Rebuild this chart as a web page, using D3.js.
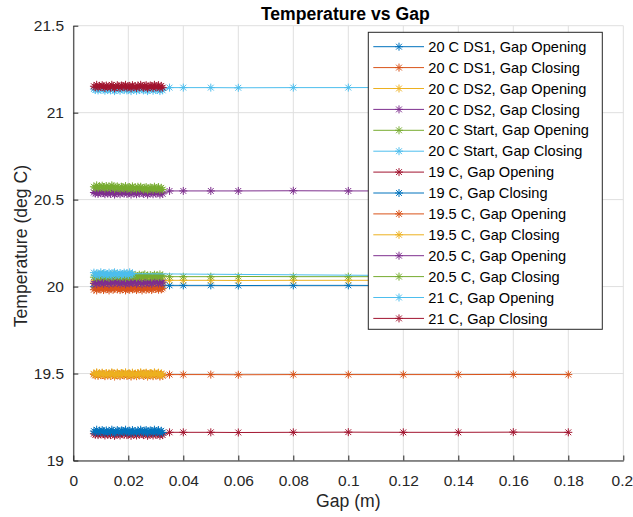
<!DOCTYPE html>
<html>
<head>
<meta charset="utf-8">
<script src="https://cdn.jsdelivr.net/npm/d3@7"></script>
<style>
  body { margin: 0; background: #ffffff; }
  text { font-family: "Liberation Sans", Arial, sans-serif; fill: #262626; }
</style>
</head>
<body>
<div id="vis"></div>
<script>
// ---------------------------------- DATOS ----------------------------------
const seriesNames = [
    "20 C DS1, Gap Opening", "20 C DS1, Gap Closing",
    "20 C DS2, Gap Opening", "20 C DS2, Gap Closing",
    "20 C Start, Gap Opening", "20 C Start, Gap Closing",
    "19 C, Gap Opening", "19 C, Gap Closing",
    "19.5 C, Gap Opening", "19.5 C, Gap Closing",
    "20.5 C, Gap Opening", "20.5 C, Gap Closing",
    "21 C, Gap Opening", "21 C, Gap Closing"
];

const xTicks = [0, 0.02, 0.04, 0.06, 0.08, 0.1, 0.12, 0.14, 0.16, 0.18, 0.2];
const xTickLabels = ["0", "0.02", "0.04", "0.06", "0.08", "0.1", "0.12", "0.14", "0.16", "0.18", "0.2"];
const yTicks = [19, 19.5, 20, 20.5, 21, 21.5];
const yTickLabels = ["19", "19.5", "20", "20.5", "21", "21.5"];

// gaps (m)
const gapOpening = [0.0075, 0.008, 0.0085, 0.009, 0.0095, 0.01, 0.0105, 0.011, 0.0115, 0.012,
    0.0125, 0.013, 0.0135, 0.014, 0.0145, 0.015, 0.0155, 0.016, 0.0165, 0.017,
    0.0175, 0.018, 0.0185, 0.019, 0.0195, 0.02, 0.0205, 0.021, 0.0215, 0.022,
    0.0225, 0.023, 0.0235, 0.024, 0.0245, 0.025, 0.0255, 0.026, 0.0265, 0.027,
    0.0275, 0.028, 0.0285, 0.029, 0.0295, 0.03, 0.0305, 0.031, 0.0315, 0.032, 0.0325,
    0.035, 0.04, 0.05, 0.06, 0.08, 0.10, 0.12, 0.14, 0.16, 0.18];
const gapClosing = [0.0325, 0.032, 0.0315, 0.031, 0.0305, 0.03, 0.0295, 0.029, 0.0285, 0.028,
    0.0275, 0.027, 0.0265, 0.026, 0.0255, 0.025, 0.0245, 0.024, 0.0235, 0.023,
    0.0225, 0.022, 0.0215, 0.021, 0.0205, 0.02, 0.0195, 0.019, 0.0185, 0.018,
    0.0175, 0.017, 0.0165, 0.016, 0.0155, 0.015, 0.0145, 0.014, 0.0135, 0.013,
    0.0125, 0.012, 0.0115, 0.011, 0.0105, 0.01, 0.0095, 0.009, 0.0085, 0.008, 0.0075];
const gapStartClosing = [0.18, 0.0215, 0.021, 0.0205, 0.02, 0.0195, 0.019, 0.0185, 0.018, 0.0175,
    0.017, 0.0165, 0.016, 0.0155, 0.015, 0.0145, 0.014, 0.0135, 0.013, 0.0125,
    0.012, 0.0115, 0.011, 0.0105, 0.01, 0.0095, 0.009, 0.0085, 0.008, 0.0075];

// temperatures (deg C)
const t20Ds1Open = [19.999, 20.009, 19.995, 20.013, 20.005, 20.001, 20.015, 19.997, 20.007, 20.011,
    20.003, 19.995, 20.013, 20.009, 19.999, 20.005, 20.015, 20.001, 20.011, 19.997,
    20.007, 20.003, 20.013, 19.995, 20.009, 20.005, 19.999, 20.015, 20.001, 20.007,
    20.011, 19.997, 20.005, 20.013, 20.003, 19.995, 20.009, 20.015, 19.999, 20.007,
    20.001, 20.011, 19.997, 20.005, 20.013, 20.003, 20.009, 19.999, 20.015, 20.001, 20.007,
    20.007, 20.007, 20.007, 20.006, 20.007, 20.007, 20.006, 20.007, 20.007, 20.007];
const t20Ds1Close = [19.990, 19.984, 19.998, 19.982, 19.992, 19.986, 19.996, 19.988, 19.980, 19.994,
    19.984, 19.990, 19.982, 19.998, 19.992, 19.978, 19.986, 19.996, 19.988, 19.980,
    19.994, 19.990, 19.984, 19.998, 19.982, 19.988, 19.992, 19.978, 19.996, 19.986,
    19.990, 19.980, 19.994, 19.984, 19.998, 19.988, 19.982, 19.992, 19.996, 19.978,
    19.986, 19.994, 19.990, 19.980, 19.998, 19.984, 19.988, 19.996, 19.978, 19.992, 19.982];
const t20Ds2Open = [20.026, 20.036, 20.022, 20.040, 20.032, 20.028, 20.042, 20.024, 20.034, 20.038,
    20.030, 20.022, 20.040, 20.036, 20.026, 20.032, 20.042, 20.028, 20.038, 20.024,
    20.034, 20.030, 20.040, 20.022, 20.036, 20.032, 20.026, 20.042, 20.028, 20.034,
    20.038, 20.024, 20.032, 20.040, 20.030, 20.022, 20.036, 20.042, 20.026, 20.034,
    20.028, 20.038, 20.024, 20.032, 20.040, 20.030, 20.036, 20.026, 20.042, 20.028, 20.034,
    20.036, 20.036, 20.036, 20.035, 20.036, 20.036, 20.036, 20.035, 20.036, 20.036];
const t20Ds2Close = [20.026, 20.020, 20.034, 20.018, 20.028, 20.022, 20.032, 20.024, 20.016, 20.030,
    20.020, 20.026, 20.018, 20.034, 20.028, 20.014, 20.022, 20.032, 20.024, 20.016,
    20.030, 20.026, 20.020, 20.034, 20.018, 20.024, 20.028, 20.014, 20.032, 20.022,
    20.026, 20.016, 20.030, 20.020, 20.034, 20.024, 20.018, 20.028, 20.032, 20.014,
    20.022, 20.030, 20.026, 20.016, 20.034, 20.020, 20.024, 20.032, 20.014, 20.028, 20.018];
const t20StartOpen = [20.054, 20.064, 20.050, 20.068, 20.060, 20.056, 20.070, 20.052, 20.062, 20.066,
    20.058, 20.050, 20.068, 20.064, 20.054, 20.060, 20.070, 20.056, 20.066, 20.052,
    20.062, 20.058, 20.068, 20.050, 20.064, 20.060, 20.054, 20.070, 20.056, 20.062,
    20.066, 20.052, 20.060, 20.068, 20.058, 20.050, 20.064, 20.070, 20.054, 20.062,
    20.056, 20.066, 20.052, 20.060, 20.068, 20.058, 20.064, 20.054, 20.070, 20.056, 20.062,
    20.057, 20.057, 20.057, 20.058, 20.057, 20.057, 20.057, 20.058, 20.057, 20.057];
const t20StartClose = [20.057,
    20.074, 20.068, 20.082, 20.066, 20.076, 20.070, 20.080, 20.072, 20.064, 20.078,
    20.068, 20.074, 20.066, 20.082, 20.076, 20.062, 20.070, 20.080, 20.072, 20.064,
    20.078, 20.074, 20.068, 20.082, 20.066, 20.072, 20.076, 20.062, 20.080];
const t19Open = [19.154, 19.148, 19.162, 19.146, 19.156, 19.150, 19.160, 19.152, 19.144, 19.158,
    19.148, 19.154, 19.146, 19.162, 19.156, 19.142, 19.150, 19.160, 19.152, 19.144,
    19.158, 19.154, 19.148, 19.162, 19.146, 19.152, 19.156, 19.142, 19.160, 19.150,
    19.154, 19.144, 19.158, 19.148, 19.162, 19.152, 19.146, 19.156, 19.160, 19.142,
    19.150, 19.158, 19.154, 19.144, 19.162, 19.148, 19.152, 19.160, 19.142, 19.156, 19.146,
    19.162, 19.162, 19.162, 19.161, 19.162, 19.163, 19.162, 19.162, 19.163, 19.162];
const t19Close = [19.161, 19.171, 19.157, 19.175, 19.167, 19.163, 19.177, 19.159, 19.169, 19.173,
    19.165, 19.157, 19.175, 19.171, 19.161, 19.167, 19.177, 19.163, 19.173, 19.159,
    19.169, 19.165, 19.175, 19.157, 19.171, 19.167, 19.161, 19.177, 19.163, 19.169,
    19.173, 19.159, 19.167, 19.175, 19.165, 19.157, 19.171, 19.177, 19.161, 19.169,
    19.163, 19.173, 19.159, 19.167, 19.175, 19.165, 19.171, 19.161, 19.177, 19.163, 19.169];
const t195Open = [19.495, 19.489, 19.503, 19.487, 19.497, 19.491, 19.501, 19.493, 19.485, 19.499,
    19.489, 19.495, 19.487, 19.503, 19.497, 19.483, 19.491, 19.501, 19.493, 19.485,
    19.499, 19.495, 19.489, 19.503, 19.487, 19.493, 19.497, 19.483, 19.501, 19.491,
    19.495, 19.485, 19.499, 19.489, 19.503, 19.493, 19.487, 19.497, 19.501, 19.483,
    19.491, 19.499, 19.495, 19.485, 19.503, 19.489, 19.493, 19.501, 19.483, 19.497, 19.487,
    19.494, 19.494, 19.494, 19.493, 19.494, 19.494, 19.494, 19.494, 19.495, 19.494];
const t195Close = [19.491, 19.501, 19.487, 19.505, 19.497, 19.493, 19.507, 19.489, 19.499, 19.503,
    19.495, 19.487, 19.505, 19.501, 19.491, 19.497, 19.507, 19.493, 19.503, 19.489,
    19.499, 19.495, 19.505, 19.487, 19.501, 19.497, 19.491, 19.507, 19.493, 19.499,
    19.503, 19.489, 19.497, 19.505, 19.495, 19.487, 19.501, 19.507, 19.491, 19.499,
    19.493, 19.503, 19.489, 19.497, 19.505, 19.495, 19.501, 19.491, 19.507, 19.493, 19.499];
const t205Open = [20.541, 20.535, 20.549, 20.533, 20.543, 20.537, 20.547, 20.539, 20.531, 20.545,
    20.535, 20.541, 20.533, 20.549, 20.543, 20.529, 20.537, 20.547, 20.539, 20.531,
    20.545, 20.541, 20.535, 20.549, 20.533, 20.539, 20.543, 20.529, 20.547, 20.537,
    20.541, 20.531, 20.545, 20.535, 20.549, 20.539, 20.533, 20.543, 20.547, 20.529,
    20.537, 20.545, 20.541, 20.531, 20.549, 20.535, 20.539, 20.547, 20.529, 20.543, 20.533,
    20.550, 20.550, 20.550, 20.550, 20.551, 20.550, 20.550, 20.551, 20.550, 20.550];
const t205Close = [20.558, 20.568, 20.554, 20.572, 20.564, 20.560, 20.574, 20.556, 20.566, 20.570,
    20.562, 20.554, 20.572, 20.568, 20.558, 20.564, 20.574, 20.564, 20.574, 20.560,
    20.570, 20.566, 20.576, 20.558, 20.572, 20.568, 20.562, 20.578, 20.564, 20.570,
    20.574, 20.560, 20.568, 20.576, 20.570, 20.562, 20.576, 20.582, 20.566, 20.574,
    20.568, 20.578, 20.564, 20.572, 20.580, 20.570, 20.576, 20.566, 20.582, 20.568, 20.574];
const t21Open = [21.136, 21.130, 21.144, 21.128, 21.138, 21.132, 21.142, 21.134, 21.126, 21.140,
    21.130, 21.136, 21.128, 21.144, 21.138, 21.124, 21.132, 21.142, 21.134, 21.126,
    21.140, 21.136, 21.130, 21.144, 21.128, 21.134, 21.138, 21.124, 21.142, 21.132,
    21.136, 21.126, 21.140, 21.130, 21.144, 21.134, 21.128, 21.138, 21.142, 21.124,
    21.132, 21.140, 21.136, 21.126, 21.144, 21.130, 21.134, 21.142, 21.124, 21.138, 21.128,
    21.144, 21.144, 21.144, 21.143, 21.144, 21.144, 21.145, 21.144, 21.144, 21.144];
const t21Close = [21.144, 21.154, 21.140, 21.158, 21.150, 21.146, 21.160, 21.142, 21.152, 21.156,
    21.148, 21.140, 21.158, 21.154, 21.144, 21.150, 21.160, 21.146, 21.156, 21.142,
    21.152, 21.148, 21.158, 21.140, 21.154, 21.150, 21.144, 21.160, 21.146, 21.152,
    21.156, 21.142, 21.150, 21.158, 21.148, 21.140, 21.154, 21.160, 21.144, 21.152,
    21.146, 21.156, 21.142, 21.150, 21.158, 21.148, 21.154, 21.144, 21.160, 21.146, 21.152];

const seriesGaps = [gapOpening, gapClosing, gapOpening, gapClosing, gapOpening, gapStartClosing,
    gapOpening, gapClosing, gapOpening, gapClosing, gapOpening, gapClosing, gapOpening, gapClosing];
const seriesTemps = [t20Ds1Open, t20Ds1Close, t20Ds2Open, t20Ds2Close, t20StartOpen, t20StartClose,
    t19Open, t19Close, t195Open, t195Close, t205Open, t205Close, t21Open, t21Close];

const colores = ["#0072BD", "#D95319", "#EDB120", "#7E2F8E", "#77AC30", "#4DBEEE", "#A2142F"];

// ---------------------------------- VIS ----------------------------------
const WIDTH = 633;
const HEIGHT = 517;
const LEFT = 73.3, RIGHT = 623.3, TOP = 25.7, BOTTOM = 460.5;

const SVG = d3.select("#vis").append("svg")
    .attr("width", WIDTH)
    .attr("height", HEIGHT);

const escalaX = d3.scaleLinear().domain([0, 0.2]).range([LEFT, RIGHT]);
const escalaY = d3.scaleLinear().domain([19, 21.5]).range([BOTTOM, TOP]);
const escalaColor = d3.scaleOrdinal().domain(seriesNames).range(colores);

// grid
SVG.append("g").selectAll("line")
    .data(xTicks)
    .enter()
    .append("line")
    .attr("x1", d => escalaX(d)).attr("x2", d => escalaX(d))
    .attr("y1", TOP).attr("y2", BOTTOM)
    .style("stroke", "#dfdfdf").style("stroke-width", 1);

SVG.append("g").selectAll("line")
    .data(yTicks)
    .enter()
    .append("line")
    .attr("x1", LEFT).attr("x2", RIGHT)
    .attr("y1", d => escalaY(d)).attr("y2", d => escalaY(d))
    .style("stroke", "#dfdfdf").style("stroke-width", 1);

// series
const starPath = "M-4,0H4M0,-4V4M-2.9,-2.9L2.9,2.9M-2.9,2.9L2.9,-2.9";
const linea = d3.line().x(d => escalaX(d[0])).y(d => escalaY(d[1]));

seriesNames.forEach((nombre, i) => {
    const puntos = seriesGaps[i].map((g, j) => [g, seriesTemps[i][j]]);
    const grupo = SVG.append("g");
    grupo.append("path")
        .attr("d", linea(puntos))
        .style("fill", "none")
        .style("stroke", escalaColor(nombre))
        .style("stroke-width", 1);
    grupo.selectAll("path.star")
        .data(puntos)
        .enter()
        .append("path")
        .attr("class", "star")
        .attr("transform", d => `translate(${escalaX(d[0])},${escalaY(d[1])})`)
        .attr("d", starPath)
        .style("fill", "none")
        .style("stroke", escalaColor(nombre))
        .style("stroke-width", 1);
});

// ejes
const ejeX = SVG.append("g")
    .attr("transform", `translate(0,${BOTTOM})`)
    .call(d3.axisBottom(escalaX)
        .tickValues(xTicks)
        .tickFormat((d, i) => xTickLabels[i])
        .tickSizeInner(-5)
        .tickSizeOuter(0)
        .tickPadding(14));

const ejeY = SVG.append("g")
    .attr("transform", `translate(${LEFT},0)`)
    .call(d3.axisLeft(escalaY)
        .tickValues(yTicks)
        .tickFormat((d, i) => yTickLabels[i])
        .tickSizeInner(-5)
        .tickSizeOuter(0)
        .tickPadding(9.3));

[ejeX, ejeY].forEach(eje => {
    eje.select(".domain").style("stroke", "#262626");
    eje.selectAll(".tick line").style("stroke", "#262626");
    eje.selectAll(".tick text")
        .attr("font-family", "Liberation Sans, Arial, sans-serif")
        .attr("font-size", "15.5px")
        .style("fill", "#262626");
});
ejeY.selectAll(".tick text").attr("dy", "0.34em");
// la última etiqueta queda pegada al borde de la ventana
ejeX.selectAll(".tick text").filter((d, i) => i === xTicks.length - 1).attr("dx", -1.5);

// textos
SVG.append("text")
    .attr("x", (LEFT + RIGHT) / 2 - 3)
    .attr("y", 20)
    .attr("text-anchor", "middle")
    .attr("font-size", "17.6px")
    .attr("font-weight", "bold")
    .style("fill", "#000000")
    .text("Temperature vs Gap");

SVG.append("text")
    .attr("x", (LEFT + RIGHT) / 2)
    .attr("y", 507)
    .attr("text-anchor", "middle")
    .attr("font-size", "17.6px")
    .text("Gap (m)");

SVG.append("text")
    .attr("transform", `translate(26.5,${(TOP + BOTTOM) / 2 + 3}) rotate(-90)`)
    .attr("text-anchor", "middle")
    .attr("font-size", "17.6px")
    .text("Temperature (deg C)");

// leyenda
const leyenda = SVG.append("g");
leyenda.append("rect")
    .attr("x", 368.3).attr("y", 32.3)
    .attr("width", 234).attr("height", 297)
    .style("fill", "#ffffff")
    .style("stroke", "#262626")
    .style("stroke-width", 1);

const filas = leyenda.selectAll("g.fila")
    .data(seriesNames)
    .enter()
    .append("g")
    .attr("class", "fila")
    .attr("transform", (d, i) => `translate(0,${46.7 + i * 20.9})`);

filas.append("line")
    .attr("x1", 373.3).attr("x2", 424)
    .attr("y1", 0).attr("y2", 0)
    .style("stroke", d => escalaColor(d))
    .style("stroke-width", 1);

filas.append("path")
    .attr("transform", "translate(399,0)")
    .attr("d", starPath)
    .style("fill", "none")
    .style("stroke", d => escalaColor(d))
    .style("stroke-width", 1);

filas.append("text")
    .attr("x", 428.3)
    .attr("y", 0)
    .attr("dy", "0.35em")
    .attr("font-size", "14.6px")
    .style("fill", "#000000")
    .text(d => d);
</script>
</body>
</html>
